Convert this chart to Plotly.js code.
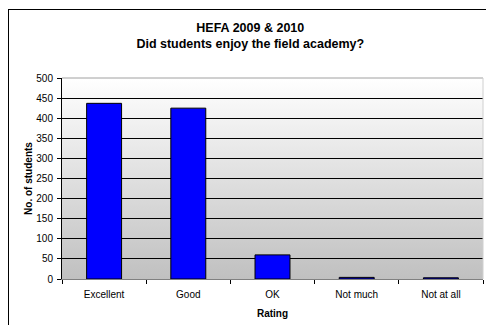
<!DOCTYPE html>
<html>
<head>
<meta charset="utf-8">
<script src="https://cdn.plot.ly/plotly-3.0.1.min.js"></script>
<style>
  html, body { margin: 0; padding: 0; background: #fff; overflow: hidden; }
  #wrap { position: relative; width: 486px; height: 325px; overflow: hidden; }
  #chart { width: 486px; height: 325px; }
  /* chart frame: only its top and left edges fall inside the page */
  #frame {
    position: absolute; left: 8px; top: 9px;
    width: 600px; height: 500px;
    border-left: 1px solid #000; border-top: 1px solid #000;
    pointer-events: none;
  }
</style>
</head>
<body>
<div id="wrap">
  <div id="chart"></div>
  <div id="frame"></div>
</div>
<script>
// Survey results: how much students enjoyed the field academy
const ratings = ['Excellent', 'Good', 'OK', 'Not much', 'Not at all'];
const students = [437, 425, 60, 4, 3];
const yTicks = [0, 50, 100, 150, 200, 250, 300, 350, 400, 450, 500];

// Vertical white-to-grey wash behind the bars
const gradientSvg =
  '<svg xmlns="http://www.w3.org/2000/svg" width="10" height="100" preserveAspectRatio="none">' +
  '<defs><linearGradient id="g" x1="0" y1="0" x2="0" y2="1">' +
  '<stop offset="0" stop-color="#ffffff"/><stop offset="1" stop-color="#c0c0c0"/>' +
  '</linearGradient></defs><rect width="10" height="100" fill="url(#g)"/></svg>';
const gradientUri = 'data:image/svg+xml;base64,' + btoa(gradientSvg);

const font = 'Liberation Sans, Arial, sans-serif';

const trace = {
  type: 'bar',
  x: ratings,
  y: students,
  marker: { color: '#0000ff', line: { color: '#000000', width: 1 } },
  hoverinfo: 'x+y'
};

const layout = {
  width: 486,
  height: 325,
  margin: { l: 62, r: 3, t: 78, b: 46 },
  paper_bgcolor: 'rgba(0,0,0,0)',
  plot_bgcolor: 'rgba(0,0,0,0)',
  bargap: 0.585,
  showlegend: false,
  font: { family: font, size: 10, color: '#000' },
  title: {
    text: '<b>HEFA 2009 & 2010<br>Did students enjoy the field academy?</b>',
    font: { family: font, size: 12.5, color: '#000' },
    x: 0.515, xanchor: 'center',
    yref: 'container', y: 0.903, yanchor: 'top'
  },
  xaxis: {
    type: 'category',
    tickson: 'boundaries',
    ticks: 'outside', ticklen: 4, tickcolor: '#000', tickwidth: 1,
    ticklabelstandoff: 6,
    showline: true, linecolor: '#808080', linewidth: 1,
    showgrid: false,
    tickfont: { family: font, size: 10, color: '#000' },
    title: { text: '<b>Rating</b>', font: { family: font, size: 10, color: '#000' }, standoff: 10 }
  },
  yaxis: {
    range: [0, 500],
    tickvals: yTicks,
    ticktext: yTicks.map(String),
    ticks: 'outside', ticklen: 4, tickcolor: '#000', tickwidth: 1,
    ticklabelstandoff: 2,
    showline: true, linecolor: '#000', linewidth: 1,
    showgrid: true, gridcolor: '#000', gridwidth: 1,
    zeroline: false,
    tickfont: { family: font, size: 10, color: '#000' },
    title: { text: '<b>No. of students</b>', font: { family: font, size: 10, color: '#000' }, standoff: 1 }
  },
  images: [{
    source: gradientUri,
    xref: 'paper', yref: 'paper',
    x: 0, y: 1, sizex: 1, sizey: 1,
    xanchor: 'left', yanchor: 'top',
    sizing: 'stretch',
    layer: 'below'
  }],
  shapes: [
    // grey frame along the top and right of the plotting area
    { type: 'line', xref: 'paper', yref: 'paper', x0: 0, x1: 1, y0: 1, y1: 1,
      line: { color: '#a0a0a0', width: 1 } },
    { type: 'line', xref: 'paper', yref: 'paper', x0: 1, x1: 1, y0: 0, y1: 1,
      line: { color: '#d0d0d0', width: 1 } }
  ]
};

Plotly.newPlot('chart', [trace], layout, { displayModeBar: false, staticPlot: true });
</script>
</body>
</html>
